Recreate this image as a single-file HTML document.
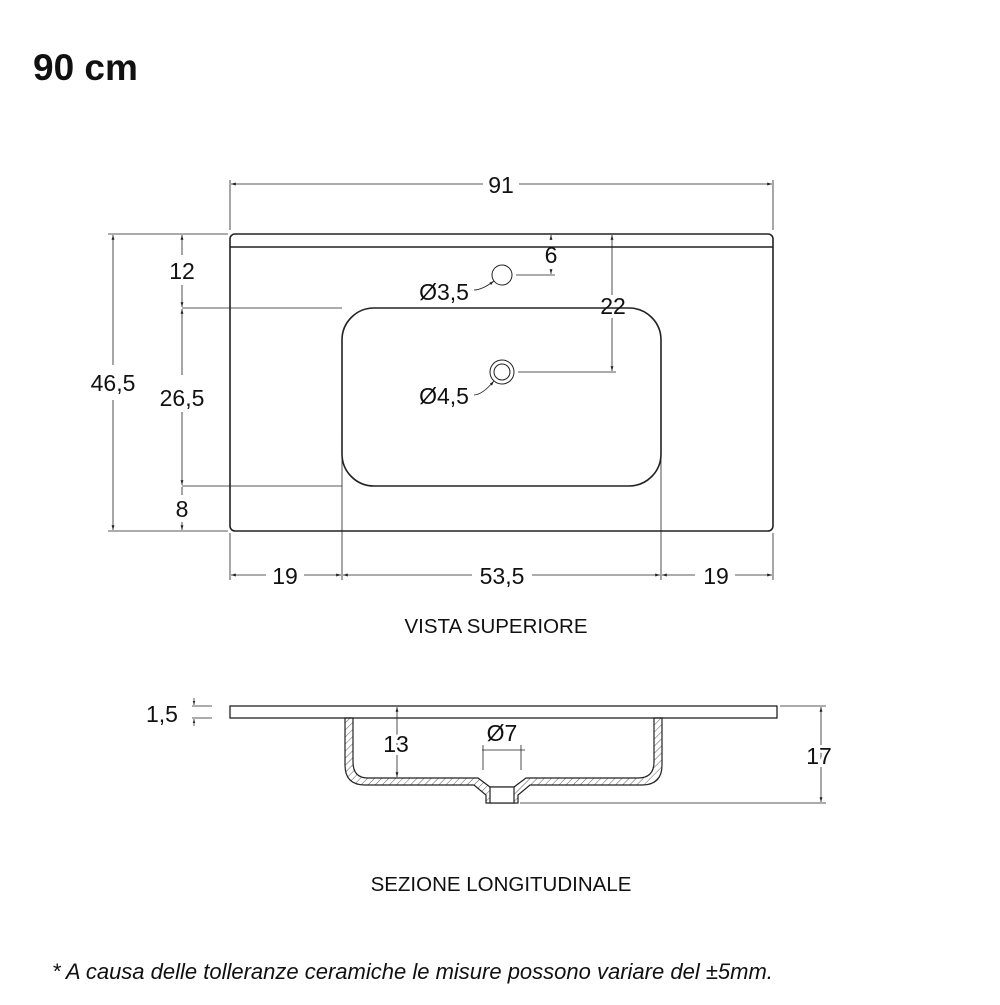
<!DOCTYPE html>
<html><head><meta charset="utf-8"><style>
body{margin:0;background:#fff}
svg text{font-family:"Liberation Sans",sans-serif;fill:#111}
</style></head><body>
<svg width="1000" height="1000" viewBox="0 0 1000 1000" xmlns="http://www.w3.org/2000/svg">
<defs>
<marker id="a" viewBox="0 0 10 10" refX="10" refY="5" markerWidth="6" markerHeight="6" orient="auto-start-reverse"><path d="M0,2 L10,5 L0,8 z" fill="#222"/></marker>
<pattern id="h" width="5" height="5" patternUnits="userSpaceOnUse" patternTransform="rotate(45)"><line x1="0" y1="0" x2="0" y2="5" stroke="#333" stroke-width="0.8"/></pattern>
</defs>
<text x="33" y="80" font-size="37" font-weight="bold">90 cm</text>
<g stroke="#222" fill="none" stroke-width="1">
<rect x="230" y="234" width="543" height="297" rx="5" stroke-width="1.6"/>
<line x1="230" y1="247" x2="773" y2="247" stroke-width="1.6"/>
<rect x="342" y="308" width="319" height="178" rx="32" stroke-width="1.6"/>
<circle cx="502" cy="275" r="10"/>
<circle cx="502" cy="372" r="12"/><circle cx="502" cy="372" r="8"/>
<line x1="230" y1="180" x2="230" y2="230" stroke-width="0.8"/>
<line x1="773" y1="180" x2="773" y2="230" stroke-width="0.8"/>
<line x1="231" y1="184" x2="485" y2="184" stroke-width="0.8" marker-start="url(#a)"/>
<line x1="517" y1="184" x2="772" y2="184" stroke-width="0.8" marker-end="url(#a)"/>
<line x1="108" y1="234" x2="228" y2="234" stroke-width="0.8"/>
<line x1="108" y1="531" x2="228" y2="531" stroke-width="0.8"/>
<line x1="113" y1="235" x2="113" y2="365" stroke-width="0.8" marker-start="url(#a)"/>
<line x1="113" y1="400" x2="113" y2="530" stroke-width="0.8" marker-end="url(#a)"/>
<line x1="182" y1="308" x2="342" y2="308" stroke-width="0.8"/>
<line x1="182" y1="486" x2="342" y2="486" stroke-width="0.8"/>
<line x1="182" y1="235" x2="182" y2="255" stroke-width="0.8" marker-start="url(#a)"/>
<line x1="182" y1="285" x2="182" y2="307" stroke-width="0.8" marker-end="url(#a)"/>
<line x1="182" y1="309" x2="182" y2="375" stroke-width="0.8" marker-start="url(#a)"/>
<line x1="182" y1="412" x2="182" y2="485" stroke-width="0.8" marker-end="url(#a)"/>
<line x1="182" y1="487" x2="182" y2="495" stroke-width="0.8"/>
<line x1="182" y1="522" x2="182" y2="530" stroke-width="0.8" marker-end="url(#a)"/>
<line x1="230" y1="533" x2="230" y2="580" stroke-width="0.8"/>
<line x1="342" y1="430" x2="342" y2="580" stroke-width="0.8"/>
<line x1="661" y1="430" x2="661" y2="580" stroke-width="0.8"/>
<line x1="773" y1="533" x2="773" y2="580" stroke-width="0.8"/>
<line x1="231" y1="575" x2="266" y2="575" stroke-width="0.8" marker-start="url(#a)"/>
<line x1="304" y1="575" x2="341" y2="575" stroke-width="0.8" marker-end="url(#a)"/>
<line x1="343" y1="575" x2="472" y2="575" stroke-width="0.8" marker-start="url(#a)"/>
<line x1="532" y1="575" x2="660" y2="575" stroke-width="0.8" marker-end="url(#a)"/>
<line x1="662" y1="575" x2="695" y2="575" stroke-width="0.8" marker-start="url(#a)"/>
<line x1="735" y1="575" x2="772" y2="575" stroke-width="0.8" marker-end="url(#a)"/>
<line x1="516" y1="275" x2="555" y2="275" stroke-width="0.8"/>
<line x1="551" y1="270" x2="551" y2="274" stroke-width="0.8" marker-end="url(#a)"/>
<line x1="551" y1="240" x2="551" y2="235" stroke-width="0.8" marker-end="url(#a)"/>
<line x1="518" y1="372" x2="616" y2="372" stroke-width="0.8"/>
<line x1="612" y1="235" x2="612" y2="295" stroke-width="0.8" marker-start="url(#a)"/>
<line x1="612" y1="318" x2="612" y2="371" stroke-width="0.8" marker-end="url(#a)"/>
<path d="M474,290 Q482,290 494,281" stroke-width="0.8" marker-end="url(#a)"/>
<path d="M474,395 Q482,395 494,381" stroke-width="0.8" marker-end="url(#a)"/>
<rect x="230" y="706" width="547" height="12" stroke-width="1.3"/>
<path d="M345,718 V765 Q345,785 365,785 H474 L486,795 V803 H518 V795 L530,785 H642 Q662,785 662,765 V718 H654 V762 Q654,778 638,778 H526 L514,787 H490 L478,778 H368 Q353,778 353,762 V718 Z" fill="url(#h)" stroke-width="1.2"/>
<rect x="490" y="787" width="24" height="16" fill="#fff" stroke-width="1.2"/>
<line x1="192" y1="706" x2="212" y2="706" stroke-width="0.7"/>
<line x1="192" y1="718" x2="212" y2="718" stroke-width="0.7"/>
<line x1="194" y1="698" x2="194" y2="705" stroke-width="0.7" marker-end="url(#a)"/>
<line x1="194" y1="726" x2="194" y2="719" stroke-width="0.7" marker-end="url(#a)"/>
<line x1="397" y1="707" x2="397" y2="777" stroke-width="0.8" marker-start="url(#a)" marker-end="url(#a)"/>
<line x1="482" y1="750" x2="525" y2="750" stroke-width="0.8"/>
<line x1="483" y1="745" x2="483" y2="770" stroke-width="0.8"/>
<line x1="521" y1="745" x2="521" y2="770" stroke-width="0.8"/>
<line x1="780" y1="706" x2="826" y2="706" stroke-width="0.8"/>
<line x1="520" y1="803" x2="826" y2="803" stroke-width="0.8"/>
<line x1="821" y1="707" x2="821" y2="802" stroke-width="0.8" marker-start="url(#a)" marker-end="url(#a)"/>
</g>
<g font-size="23">
<rect x="483" y="170" width="36" height="28" fill="#fff"/>
<text x="501" y="193" text-anchor="middle">91</text>
<text x="113" y="391" text-anchor="middle" style="paint-order:stroke" stroke="#fff" stroke-width="6">46,5</text>
<text x="182" y="279" text-anchor="middle">12</text>
<text x="182" y="406" text-anchor="middle" style="paint-order:stroke" stroke="#fff" stroke-width="6">26,5</text>
<text x="182" y="517" text-anchor="middle">8</text>
<text x="285" y="584" text-anchor="middle">19</text>
<text x="502" y="584" text-anchor="middle">53,5</text>
<text x="716" y="584" text-anchor="middle">19</text>
<text x="551" y="263" text-anchor="middle">6</text>
<text x="613" y="314" text-anchor="middle">22</text>
<text x="444" y="300" text-anchor="middle">Ø3,5</text>
<text x="444" y="404" text-anchor="middle">Ø4,5</text>
<text x="162" y="722" text-anchor="middle">1,5</text>
<text x="396" y="752" text-anchor="middle" style="paint-order:stroke" stroke="#fff" stroke-width="6">13</text>
<text x="502" y="741" text-anchor="middle">Ø7</text>
<text x="819" y="764" text-anchor="middle" style="paint-order:stroke" stroke="#fff" stroke-width="6">17</text>
</g>
<text x="496" y="633" text-anchor="middle" font-size="20.5">VISTA SUPERIORE</text>
<text x="501" y="891" text-anchor="middle" font-size="20.5">SEZIONE LONGITUDINALE</text>
<text x="52" y="979" font-size="22" font-style="italic">* A causa delle tolleranze ceramiche le misure possono variare del ±5mm.</text>
</svg>
</body></html>
